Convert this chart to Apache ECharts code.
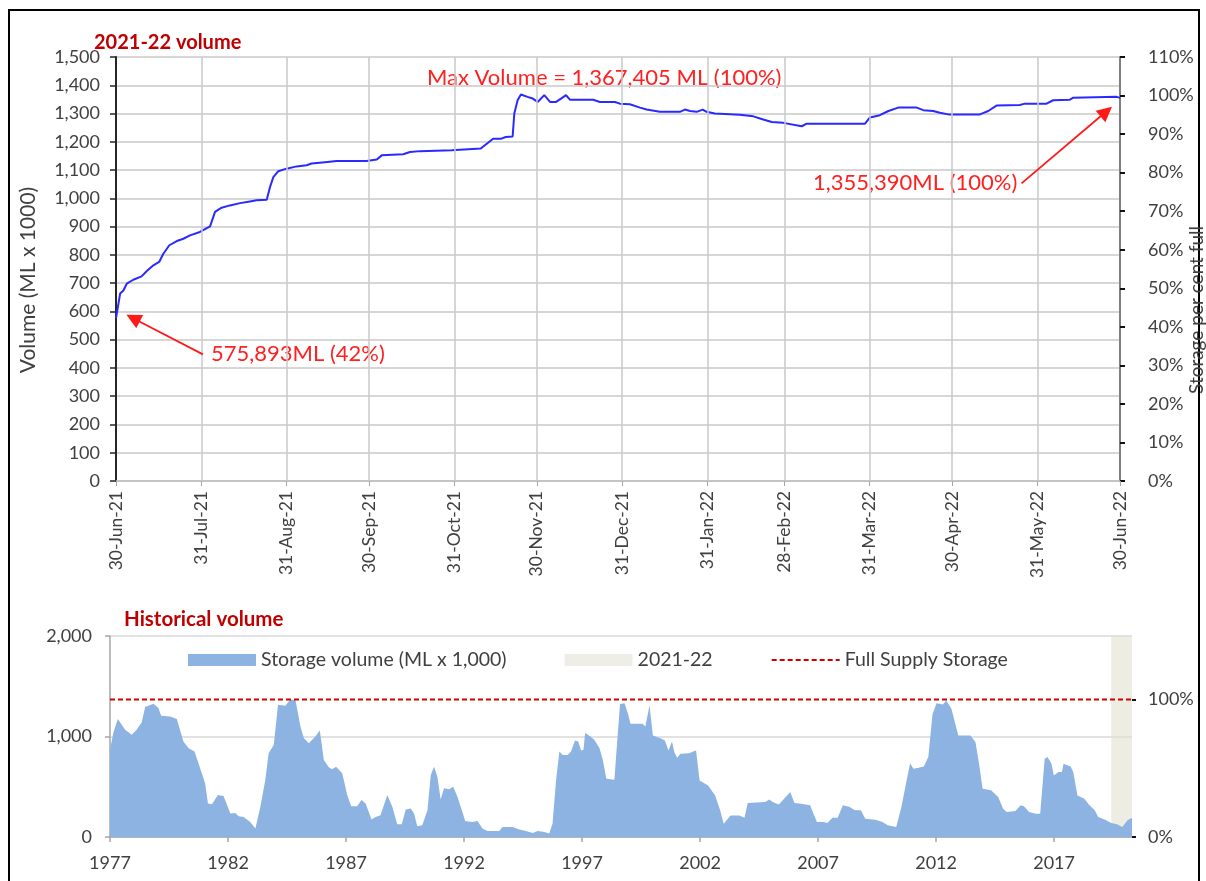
<!DOCTYPE html>
<html><head><meta charset="utf-8">
<script src="https://cdn.jsdelivr.net/npm/echarts@6/dist/echarts.min.js"></script>
<style>html,body{margin:0;padding:0;background:#fff}#c{width:1206px;height:881px}</style>
</head><body><div id="c"></div>
<script>
const FONT = 'Lato';

// ---------- 2021-22 daily volume (top chart) ----------
// x = days since 30-Jun-21, y = volume (ML x 1000)
const monthEndDays = [0,31,62,92,123,153,184,215,243,274,304,335,365];
const monthEndLabels = ['30-Jun-21','31-Jul-21','31-Aug-21','30-Sep-21','31-Oct-21','30-Nov-21','31-Dec-21','31-Jan-22','28-Feb-22','31-Mar-22','30-Apr-22','31-May-22','30-Jun-22'];
const volDays = [0,1.5,2.7,3.9,6.3,9.3,11.2,13.6,15.7,17.2,19.4,22.1,24.5,26.9,30.5,34.2,36.0,38.4,41.4,45.1,48.7,51.1,54.8,56.0,57.2,59.0,62.0,65.7,69.3,71.1,76.0,80.2,91.1,94.8,96.6,104.4,106.9,110.5,122.0,122.6,132.6,134.1,137.1,140.1,141.7,144.2,144.8,146.0,147.2,149.6,151.5,153.3,155.7,157.8,160.0,161.8,163.6,165.0,173.5,175.9,181.4,183.2,186.8,190.5,192.9,197.7,205.0,206.8,208.7,211.1,213.3,214.7,217.7,226.8,231.7,235.3,238.4,242.6,249.3,251.1,272.3,274.1,277.7,280.8,284.4,291.1,293.5,297.1,299.5,302.6,314.1,317.1,320.1,328.6,330.4,338.3,340.7,346.8,348.0,363.8,365];
const volValues = [575.9,663,674,698,712,724,743,763,775,804,834,849,857,869,881,901,952,967,975,983,989,993,995,1040,1075,1096,1105,1113,1117,1123,1128,1132,1132,1137,1152,1156,1164,1167,1170,1176,1176,1188,1211,1211,1217,1219,1300,1347,1367.4,1359,1353,1341,1365,1341,1341,1353,1365,1349,1349,1341,1341,1335,1333,1321,1314,1306,1306,1314,1309,1306,1314,1306,1300,1296,1290,1279,1270,1267,1255,1264,1264,1286,1294,1309,1321,1321,1312,1309,1303,1297,1297,1309,1328,1330,1335,1335,1347,1349,1356,1359,1355.39];

// ---------- Historical volume (bottom chart) ----------
const histYear = [1977.00,1977.14,1977.33,1977.50,1977.64,1977.92,1978.13,1978.34,1978.49,1978.84,1979.05,1979.17,1979.55,1979.83,1980.11,1980.33,1980.58,1980.89,1981.03,1981.15,1981.32,1981.57,1981.81,1982.10,1982.31,1982.45,1982.66,1982.94,1983.16,1983.37,1983.58,1983.72,1983.94,1984.12,1984.43,1984.64,1984.86,1985.07,1985.21,1985.42,1985.70,1985.89,1986.06,1986.27,1986.41,1986.58,1986.84,1987.05,1987.22,1987.47,1987.66,1987.83,1988.08,1988.25,1988.46,1988.75,1988.96,1989.17,1989.36,1989.53,1989.74,1989.88,1990.02,1990.23,1990.45,1990.59,1990.73,1990.87,1991.01,1991.15,1991.37,1991.54,1991.72,1991.93,1992.05,1992.36,1992.57,1992.78,1992.99,1993.49,1993.63,1994.06,1994.34,1994.62,1994.91,1995.12,1995.40,1995.61,1995.75,1995.90,1996.04,1996.18,1996.39,1996.53,1996.70,1996.84,1996.96,1997.06,1997.13,1997.31,1997.52,1997.74,1997.88,1998.03,1998.37,1998.47,1998.61,1998.80,1998.95,1999.05,1999.56,1999.68,1999.86,2000.00,2000.37,2000.51,2000.66,2000.81,2000.91,2001.03,2001.17,2001.54,2001.73,2001.83,2001.98,2002.34,2002.64,2002.85,2003.00,2003.29,2003.66,2003.88,2004.02,2004.76,2004.93,2005.12,2005.34,2005.56,2005.82,2006.00,2006.29,2006.66,2006.95,2007.24,2007.39,2007.61,2007.83,2008.05,2008.34,2008.56,2008.81,2009.00,2009.43,2009.73,2009.95,2010.31,2010.53,2010.75,2010.90,2011.04,2011.26,2011.48,2011.67,2011.85,2012.02,2012.29,2012.43,2012.65,2012.94,2013.46,2013.67,2013.82,2013.97,2014.33,2014.63,2014.84,2014.99,2015.36,2015.58,2015.72,2015.94,2016.23,2016.41,2016.60,2016.72,2016.89,2016.99,2017.18,2017.33,2017.40,2017.70,2017.81,2017.99,2018.28,2018.50,2018.72,2018.87,2019.16,2019.42,2019.67,2019.89,2020.11,2020.30];
const histVolume = [867,1034,1174,1117,1067,1017,1067,1140,1294,1327,1284,1207,1200,1174,950,884,850,634,534,334,327,417,407,234,240,207,200,150,84,300,567,834,917,1317,1307,1367,1360,1100,984,934,1000,1060,767,694,674,700,634,417,307,307,367,334,174,200,217,417,300,127,127,274,284,234,107,117,267,617,700,600,374,484,474,500,400,250,160,150,160,84,60,60,100,100,74,60,40,60,50,34,134,567,850,817,817,850,960,950,860,867,1034,1007,967,884,767,579,569,894,1324,1331,1225,1126,1126,1099,1308,1010,977,960,861,950,844,788,828,834,854,861,563,513,414,265,132,215,215,192,338,348,374,344,324,381,447,338,331,315,149,149,139,192,192,315,298,265,265,182,172,149,116,99,298,563,735,679,689,702,795,1225,1331,1318,1358,1275,1010,1010,944,728,480,464,397,281,248,258,315,305,248,232,232,778,795,728,613,646,646,728,702,646,414,381,315,265,199,172,139,126,99,166,192];
const histTicks = [1977,1982,1987,1992,1997,2002,2007,2012,2017];
const band2122 = [2019.42, 2020.30];
const fullSupply = 1367.405; // ML x 1000

// ---------- annotations ----------
const startVolume = 575893, endVolume = 1355390, maxVolume = 1367405;

const comma = v => String(Math.round(v)).replace(/\B(?=(\d{3})+(?!\d))/g, ',');
const lab = (size, extra) => Object.assign({color:'#404040', fontFamily:FONT, fontSize:size}, extra||{});

const chart = echarts.init(document.getElementById('c'), null, {renderer:'canvas'});
const pctTopBottom = 100 * 2000 / fullSupply;

const option = {
  animation: false,
  backgroundColor: '#ffffff',
  grid: [
    {left:116, top:57, width:1004, height:424},
    {left:110, top:636, width:1022, height:201}
  ],
  legend: {
    left: 183, top: 645, itemWidth: 68, itemHeight: 12, itemGap: 58,
    textStyle: lab(19.5),
    selectedMode: false,
    data: [
      {name:'Storage volume (ML x 1,000)', icon:'rect'},
      {name:'2021-22', icon:'rect'},
      {name:'Full Supply Storage', itemStyle:{opacity:0}, lineStyle:{color:'#d00000', width:2, type:[5,3]}}
    ]
  },
  xAxis: [
    {type:'value', gridIndex:0, min:0, max:365,
     axisLine:{show:true, lineStyle:{color:'#bfbfbf', width:1.5}},
     axisTick:{show:true, customValues:monthEndDays, length:5, lineStyle:{color:'#a6a6a6'}},
     axisLabel:Object.assign(lab(17.5), {customValues:monthEndDays, rotate:90, margin:10,
       formatter: v => monthEndLabels[monthEndDays.indexOf(v)]}),
     splitLine:{show:false}},
    {type:'value', gridIndex:1, min:histTicks[0], max:band2122[1],
     axisLine:{show:true, lineStyle:{color:'#a6a6a6', width:1.5}},
     axisTick:{show:true, customValues:histTicks, length:5, lineStyle:{color:'#a6a6a6', width:1.5}},
     axisLabel:Object.assign(lab(18), {customValues:histTicks, margin:17, formatter: v => String(v)}),
     splitLine:{show:false}}
  ],
  yAxis: [
    {type:'value', gridIndex:0, min:0, max:1500, interval:100,
     axisLine:{show:true, lineStyle:{color:'#262626', width:2}},
     axisTick:{show:true, length:6, lineStyle:{color:'#262626', width:1.5}},
     axisLabel:Object.assign(lab(18), {margin:16, formatter: comma}),
     splitLine:{show:true, lineStyle:{color:'#c8c8c8', width:1.5}}},
    {type:'value', gridIndex:0, position:'right', min:0, max:110, interval:10,
     axisLine:{show:true, lineStyle:{color:'#808080', width:2}},
     axisTick:{show:true, length:5, lineStyle:{color:'#111', width:2}},
     axisLabel:Object.assign(lab(18), {margin:28, formatter:'{value}%'}),
     splitLine:{show:false}},
    {type:'value', gridIndex:1, min:0, max:2000, interval:1000,
     axisLine:{show:true, lineStyle:{color:'#a6a6a6', width:1.5}},
     axisTick:{show:true, length:5, lineStyle:{color:'#a6a6a6', width:1.5}},
     axisLabel:Object.assign(lab(18), {margin:18, formatter: comma}),
     splitLine:{show:true, lineStyle:{color:'#d9d9d9', width:1.5}}},
    {type:'value', gridIndex:1, position:'right', min:0, max:pctTopBottom,
     axisLine:{show:false},
     axisTick:{show:true, customValues:[0,100], length:4, lineStyle:{color:'#111', width:2}},
     axisLabel:Object.assign(lab(18), {customValues:[0,100], margin:16, formatter:'{value}%'}),
     splitLine:{show:false}}
  ],
  series: [
    { // vertical month-end gridlines
      name:'grid-v', type:'line', xAxisIndex:0, yAxisIndex:0, data:[], z:1, silent:true,
      markLine:{silent:true, symbol:'none', label:{show:false}, animation:false,
        lineStyle:{color:'#c8c8c8', width:1.5, type:'solid'},
        data: monthEndDays.slice(1, -1).map(d => ({xAxis:d}))}
    },
    {
      name:'2021-22 volume', type:'line', xAxisIndex:0, yAxisIndex:0, z:3,
      data: volDays.map((d,i) => [d, volValues[i]]),
      showSymbol:false, symbol:'none',
      lineStyle:{color:'#2a2aff', width:2}, itemStyle:{color:'#2a2aff'}
    },
    { // annotation arrows
      name:'arrows', type:'line', xAxisIndex:0, yAxisIndex:0, data:[], z:4, silent:true,
      markLine:{silent:true, symbol:['none','triangle'], symbolSize:15, label:{show:false}, animation:false,
        lineStyle:{color:'#ff1a1a', width:1.8, type:'solid'}, itemStyle:{color:'#ff1a1a'},
        data:[
          [{coord:[31.6, 448]}, {coord:[6.2, startVolume/1000]}],
          [{coord:[329.2, 1053]}, {coord:[360.0, 1307]}]
        ]}
    },
    {
      name:'Storage volume (ML x 1,000)', type:'line', xAxisIndex:1, yAxisIndex:2, z:2,
      data: histYear.map((y,i) => [y, histVolume[i]]),
      showSymbol:false, symbol:'none',
      lineStyle:{width:0}, itemStyle:{color:'#8db3e2'},
      areaStyle:{color:'#8db3e2', opacity:1}
    },
    {
      name:'2021-22', type:'line', xAxisIndex:1, yAxisIndex:2, z:3, data:[],
      itemStyle:{color:'#efeee6'}, lineStyle:{color:'#efeee6'},
      markArea:{silent:true, itemStyle:{color:'rgb(226,225,210)', opacity:0.6},
        data:[[{xAxis:band2122[0]}, {xAxis:band2122[1]}]]}
    },
    {
      name:'Full Supply Storage', type:'line', xAxisIndex:1, yAxisIndex:2, z:4,
      data:[[histTicks[0], fullSupply], [band2122[1], fullSupply]],
      symbol:'none', showSymbol:false,
      lineStyle:{color:'#d00000', width:2, type:[5,3]}, itemStyle:{color:'#d00000'}
    }
  ],
  graphic: [
    {type:'rect', shape:{x:9, y:10, width:1190, height:880}, style:{fill:'none', stroke:'#000', lineWidth:2}, silent:true},
    {type:'text', left:94, top:33, style:{text:'2021-22 volume', fill:'#c00000', font:'bold 20px ' + FONT}},
    {type:'text', left:124, top:609, style:{text:'Historical volume', fill:'#c00000', font:'bold 20.5px ' + FONT}},
    {type:'text', x:28, y:280, rotation:Math.PI/2, style:{text:'Volume (ML x 1000)', fill:'#404040', font:'21px ' + FONT, align:'center', verticalAlign:'middle'}},
    {type:'text', x:1197, y:310, rotation:Math.PI/2, style:{text:'Storage per cent full', fill:'#404040', font:'19px ' + FONT, align:'center', verticalAlign:'middle'}},
    {type:'text', x:427, y:78, style:{text:'Max Volume = ' + comma(maxVolume) + ' ML (100%)', fill:'#ff2020', font:'22px ' + FONT, verticalAlign:'middle'}},
    {type:'text', x:813, y:183, style:{text:comma(endVolume) + 'ML (100%)', fill:'#ff2020', font:'22px ' + FONT, verticalAlign:'middle'}},
    {type:'text', x:211, y:354, style:{text:comma(startVolume) + 'ML (42%)', fill:'#ff2020', font:'22px ' + FONT, verticalAlign:'middle'}}
  ]
};
chart.setOption(option);
</script>
</body></html>
